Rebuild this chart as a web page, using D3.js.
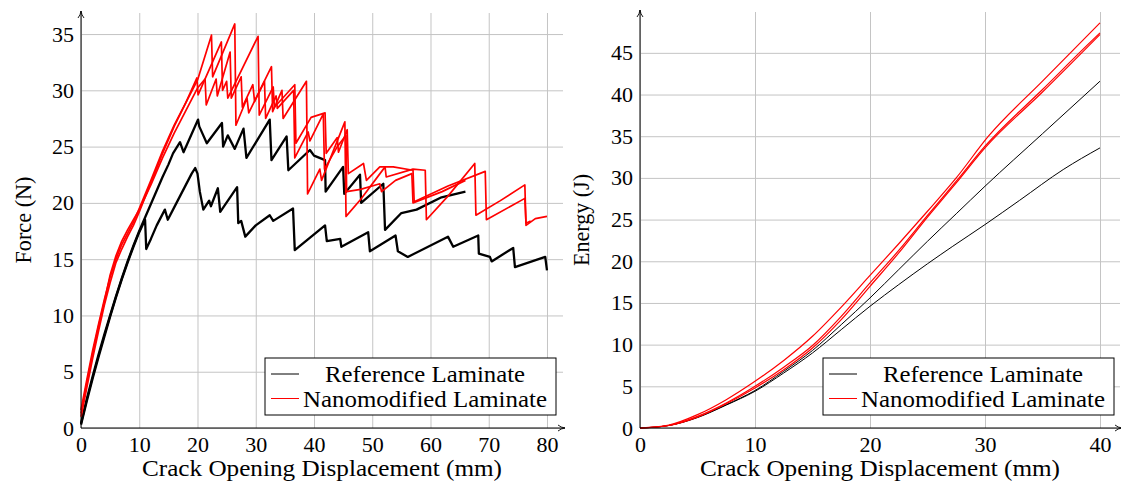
<!DOCTYPE html>
<html><head><meta charset="utf-8">
<script src="https://cdn.jsdelivr.net/npm/d3@7"></script>
<style>
body{margin:0;background:#fff}
svg text{font-family:"Liberation Serif","Times New Roman",Tinos,"DejaVu Serif","Noto Serif",serif !important;fill:#000}
</style>
</head><body>
<svg id="c" width="1121" height="484"></svg>
<script>
// ---------------- DATA ----------------
const seriesNames = ["Reference Laminate", "Nanomodified Laminate"];
const forceXTicks = [0,10,20,30,40,50,60,70,80];
const forceYTicks = [0,5,10,15,20,25,30,35];
const energyXTicks = [0,10,20,30,40];
const energyYTicks = [0,5,10,15,20,25,30,35,40,45];

// Force vs COD  [COD mm, Force N]
const refForceA = [[0,0.3],[1,2.4],[2,4.4],[3,6.3],[4,8.1],[5,9.9],[6,11.6],[7,13.2],[8,14.7],[9,16.1],[10,17.4],[11,18.5],[11.2,15.9],[12,16.8],[13,18.0],[14.4,19.4],[14.9,18.5],[16,19.6],[17,20.6],[18,21.6],[19,22.6],[19.6,23.1],[20.0,22.6],[20.4,21.0],[21.0,19.4],[22.0,20.2],[22.3,19.7],[23.5,21.3],[23.9,19.2],[26.8,21.4],[27.0,18.2],[27.5,18.4],[28.2,17.0],[30.0,18.0],[32.4,18.9],[33.0,18.4],[36.4,19.5],[36.7,15.8],[41.9,18.0],[42.2,16.6],[44.5,16.8],[44.7,16.1],[49.3,17.4],[49.6,15.7],[54.0,17.1],[54.4,15.7],[56.1,15.2],[63.0,17.0],[63.9,16.1],[68.2,17.1],[68.3,15.5],[70.2,15.2],[70.5,14.8],[74.2,16.0],[74.5,14.3],[79.7,15.2],[80.0,14.0]];
const refForceB = [[0,0.4],[1,2.6],[2,4.6],[3,6.5],[4,8.3],[5,10.0],[6,11.7],[7,13.3],[8,14.8],[9,16.2],[10,17.5],[11,18.7],[12,19.9],[13,21.1],[14,22.3],[15,23.4],[15.8,24.4],[17.0,25.4],[17.6,24.5],[20.1,27.4],[20.3,26.8],[21.6,25.3],[24.2,27.1],[24.4,25.0],[25.2,26.0],[26.4,24.8],[27.9,26.6],[28.4,24.0],[32.4,27.4],[32.7,23.8],[35.3,25.9],[35.6,22.9],[39.3,24.7],[40.0,24.2],[41.9,23.8],[42.0,21.0],[45.0,23.2],[45.2,20.8],[47.9,22.5],[48.1,20.0],[51.9,21.7],[52.2,17.6],[55.0,19.1],[57.6,19.4],[61.9,20.5],[66.0,21.0]];
const nanoForceA = [[0,1.0],[1,3.6],[2,6.2],[3,8.6],[4,10.9],[5,12.9],[6,14.7],[7,15.9],[8,17.0],[9,18.0],[10,19.2],[12,21.8],[14,24.4],[16,26.8],[18,28.9],[20,30.9],[22.4,34.9],[22.6,31.2],[26.4,35.9],[26.6,26.9],[28.5,29.3],[28.8,28.0],[32.7,32.1],[32.9,28.1],[34.5,30.0],[34.7,27.5],[38.7,30.8],[38.9,20.8],[41.0,23.0],[41.3,22.0],[45.3,27.2],[45.5,18.8],[48.0,20.3],[52.2,23.2],[52.4,22.3],[57.0,23.0],[59.1,22.9],[59.3,18.5],[63.0,20.6],[67.6,23.5],[67.8,18.9],[72.0,20.2],[76.2,21.6],[76.4,18.0],[78.0,18.6],[80.0,18.8]];
const nanoForceB = [[0,1.6],[1,4.3],[2,6.9],[3,9.2],[4,11.4],[5,13.4],[6,15.0],[7,16.3],[8,17.3],[9,18.3],[10,19.5],[12,22.0],[14,24.6],[16,26.9],[18,28.9],[19.9,31.1],[20.1,29.6],[24.1,34.3],[24.3,30.0],[25.0,30.8],[25.2,29.3],[30.4,34.8],[30.6,27.8],[33.0,30.3],[33.2,28.5],[36.7,30.5],[36.9,25.3],[39.5,27.6],[41.9,28.0],[42.1,24.4],[44.0,25.8],[44.2,24.5],[45.7,26.5],[45.9,22.6],[48.5,23.5],[49.0,22.0],[51.3,23.2],[53.6,23.2],[57.0,22.9],[57.2,20.1],[63.0,21.5],[69.4,22.8],[69.6,18.5],[76.2,20.4],[76.4,18.2],[77.2,18.4]];
const nanoForceC = [[0,1.3],[1,4.0],[2,6.6],[3,9.0],[4,11.2],[5,13.6],[6,15.3],[7,16.6],[8,17.6],[9,18.5],[10,19.4],[12,21.6],[14,24.0],[16,26.2],[18,28.2],[20.0,30.2],[21.3,31.0],[21.5,28.7],[23.2,31.0],[23.4,29.5],[25.6,33.4],[25.8,29.3],[27.5,31.2],[27.7,28.5],[29.5,30.5],[29.8,29.0],[31.5,30.8],[31.7,27.5],[33.5,29.5],[33.7,28.4],[36.5,30.0],[36.7,24.0],[39.0,26.3],[39.3,25.5],[41.6,27.9],[41.8,23.0],[44.0,25.0],[45.5,26.0],[45.6,21.0],[48.0,21.2],[51.3,21.7],[51.6,21.0],[54.0,22.0],[56.8,22.6],[57.0,20.0],[62.0,21.0],[66.0,22.0]];

// Energy vs COD  [COD mm, Energy J]
const refEnergyA = [[0,0],[2.5,0.3],[5,1.25],[7.5,2.75],[10,4.4],[12.5,6.6],[15,9.0],[17.5,11.8],[20,14.6],[22.5,17.2],[25,19.7],[27.2,21.8],[30,24.4],[33,27.3],[36.8,31.0],[40,33.6]];
const refEnergyB = [[0,0],[2.5,0.3],[5,1.3],[7.5,2.8],[10,4.5],[12.5,6.8],[15,9.3],[17.5,12.4],[20,15.6],[22.5,19.0],[25,22.4],[27.5,25.7],[30,29.0],[35,35.3],[40,41.6]];
const nanoEnergyA = [[0,0],[2.5,0.35],[5,1.6],[7.5,3.4],[10,5.6],[12.5,8.1],[15,11.0],[17.5,14.5],[20,18.3],[22.5,22.1],[25,26.0],[27.5,30.0],[30.3,35.0],[35,41.6],[40,48.6]];
const nanoEnergyB = [[0,0],[2.5,0.3],[5,1.4],[7.5,3.0],[10,5.0],[12.5,7.3],[15,9.9],[17.5,13.4],[20,17.4],[22.5,21.3],[25,25.5],[27.5,29.6],[30,33.8],[35,40.6],[38.8,45.8],[40,47.4]];
const nanoEnergyC = [[0,0],[2.5,0.3],[5,1.3],[7.5,2.9],[10,4.8],[12.5,7.0],[15,9.6],[17.5,13.0],[20,17.0],[22.5,21.0],[25,25.3],[27.5,29.4],[30,33.6],[35,40.3],[40,47.2]];

// ---------------- DRAW ----------------
const FONT = '"Liberation Serif","Times New Roman",Tinos,"DejaVu Serif","Noto Serif",serif';
const svg = d3.select('#c');
svg.append('rect').attr('width',1121).attr('height',484).attr('fill','#fff');

const defs = svg.append('defs');
defs.append('marker').attr('id','arr').attr('viewBox','0 -4 8 8').attr('refX',7).attr('refY',0)
  .attr('markerWidth',8).attr('markerHeight',8).attr('markerUnits','userSpaceOnUse').attr('orient','auto')
  .append('path').attr('d','M0,-3 Q3,-0.5 7,0 Q3,0.5 0,3').attr('fill','none').attr('stroke','#000').attr('stroke-width',0.9);

const FS = 22;

function panel(cfg){
  const g = svg.append('g').attr('font-family',FONT);
  const x = d3.scaleLinear().domain(cfg.xDom).range([cfg.x0, cfg.x1]);
  const y = d3.scaleLinear().domain(cfg.yDom).range([cfg.y0, cfg.y1]);

  const xa = g.append('g').attr('transform',`translate(0,${cfg.y0})`)
    .call(d3.axisBottom(x).tickValues(cfg.xTicks).tickSize(-(cfg.y0-cfg.y1)).tickPadding(8).tickFormat(d3.format('d')));
  const ya = g.append('g').attr('transform',`translate(${cfg.x0},0)`)
    .call(d3.axisLeft(y).tickValues(cfg.yTicks).tickSize(-(cfg.x1-cfg.x0)).tickPadding(7).tickFormat(d3.format('d')));
  [xa,ya].forEach(a=>{
    a.attr('font-family',FONT).attr('font-size',FS);
    a.select('.domain').remove();
    a.selectAll('line').attr('stroke','#c4c4c4').attr('stroke-width',1);
    a.selectAll('text').attr('font-size',FS).attr('font-family',FONT).attr('fill','#000');
  });

  const line = d3.line().x(d=>x(d[0])).y(d=>y(d[1])).curve(cfg.curve);
  cfg.series.forEach(s=>{
    g.append('path').datum(s.data).attr('d',line).attr('fill','none')
      .attr('stroke',s.color).attr('stroke-width',s.w).attr('stroke-linejoin','round');
  });

  g.append('line').attr('x1',cfg.x0).attr('x2',cfg.x1+2).attr('y1',cfg.y0).attr('y2',cfg.y0)
    .attr('stroke','#000').attr('stroke-width',1).attr('marker-end','url(#arr)');
  g.append('line').attr('x1',cfg.x0).attr('x2',cfg.x0).attr('y1',cfg.y0).attr('y2',cfg.y1-2)
    .attr('stroke','#000').attr('stroke-width',1).attr('marker-end','url(#arr)');

  g.append('text').attr('x',(cfg.x0+cfg.x1)/2).attr('y',476).attr('text-anchor','middle')
    .attr('font-size',FS+1).attr('textLength',360).attr('lengthAdjust','spacingAndGlyphs').text(cfg.xLabel);
  g.append('text').attr('transform',`translate(${cfg.yLabelX},220) rotate(-90)`).attr('text-anchor','middle')
    .attr('font-size',FS+1).attr('textLength',cfg.yLabelLen).attr('lengthAdjust','spacingAndGlyphs').text(cfg.yLabel);

  const L = cfg.legend;
  const lg = g.append('g');
  lg.append('rect').attr('x',L.x).attr('y',L.y).attr('width',L.w).attr('height',L.h)
    .attr('fill','#fff').attr('stroke','#000').attr('stroke-width',1);
  const cols = ['#000','#ff0000'];
  const lens = [200,244];
  seriesNames.forEach((n,i)=>{
    const yy = L.y + 16 + i*24.5;
    lg.append('line').attr('x1',L.x+6).attr('x2',L.x+34).attr('y1',yy).attr('y2',yy)
      .attr('stroke',cols[i]).attr('stroke-width',1);
    lg.append('text').attr('x',L.tx).attr('y',yy+8).attr('text-anchor','middle')
      .attr('font-size',FS+1).attr('textLength',lens[i]).attr('lengthAdjust','spacingAndGlyphs').text(n);
  });
}

panel({
  xDom:[0,82.75], yDom:[0,36.87], x0:81, x1:563, y0:428, y1:13,
  xTicks:forceXTicks, yTicks:forceYTicks,
  xLabel:"Crack Opening Displacement (mm)", yLabel:"Force (N)", yLabelX:31, yLabelLen:87,
  curve:d3.curveLinear,
  series:[
    {data:refForceA,color:'#000',w:2.3},
    {data:refForceB,color:'#000',w:2.3},
    {data:nanoForceA,color:'#ff0000',w:1.7},
    {data:nanoForceB,color:'#ff0000',w:1.7},
    {data:nanoForceC,color:'#ff0000',w:1.7}
  ],
  legend:{x:265,y:358,w:291,h:57,tx:425}
});

panel({
  xDom:[0,41.74], yDom:[0,49.9], x0:640, x1:1120, y0:428, y1:12,
  xTicks:energyXTicks, yTicks:energyYTicks,
  xLabel:"Crack Opening Displacement (mm)", yLabel:"Energy (J)", yLabelX:589, yLabelLen:92,
  curve:d3.curveMonotoneX,
  series:[
    {data:refEnergyA,color:'#000',w:1},
    {data:refEnergyB,color:'#000',w:1},
    {data:nanoEnergyA,color:'#ff0000',w:1.2},
    {data:nanoEnergyB,color:'#ff0000',w:1.2},
    {data:nanoEnergyC,color:'#ff0000',w:1.2}
  ],
  legend:{x:823,y:358,w:291,h:57,tx:983}
});
</script>
</body></html>
